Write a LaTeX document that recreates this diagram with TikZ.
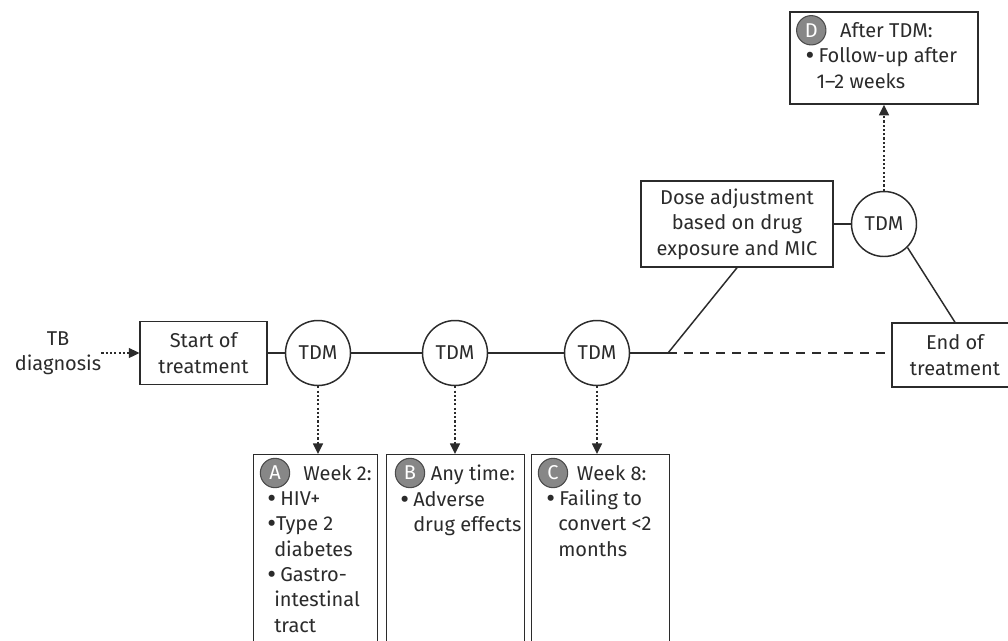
\documentclass[tikz,border=0pt]{standalone}
\usepackage{fontspec}
\setmainfont{Fira Sans}
\usetikzlibrary{arrows.meta,positioning,calc}
\definecolor{ink}{HTML}{2B2B2B}
\definecolor{badgegray}{HTML}{878787}
\newcommand{\dotmark}{\raisebox{-0.09em}{\scalebox{1.35}{\textbullet}}}
\newcommand{\bul}{\makebox[9.75pt][l]{\dotmark}}

\begin{document}
\begin{tikzpicture}[
    x=0.75pt, y=-0.75pt,
    >={Triangle[length=8pt, width=7.5pt]},
    every node/.style={font=\fontsize{15}{19}\selectfont, text=ink},
    box/.style={draw=ink, line width=1.1pt, inner sep=0pt, align=center},
    tdm/.style={circle, draw=ink, line width=1.1pt, minimum size=48.75pt, inner sep=0pt},
    badge/.style={circle, draw=ink!85, fill=badgegray, text=white, line width=0.8pt,
        minimum size=22pt, inner sep=0pt},
    note/.style={anchor=north west, align=left, inner sep=0pt},
    link/.style={draw=ink, line width=1.1pt},
    dotarrow/.style={link, dash pattern=on 1.6pt off 1.6pt, ->},
]

\useasboundingbox (0,0) rectangle (1008,640);
\fill[white] (0,0) rectangle (1008,640);
\clip (0,0) rectangle (1008,640);

% Diagnosis and start
\node[align=center, inner sep=0pt] (diag) at (58,353) {TB\\diagnosis};
\node[box, minimum width=95pt, minimum height=47pt] (start) at (203.5,353) {Start of\\treatment};
\draw[dotarrow] (diag) -- (start);

% TDM time line
\node[tdm] (tdmA) at (318,353) {TDM};
\node[tdm] (tdmB) at (455,353) {TDM};
\node[tdm] (tdmC) at (597,353) {TDM};
\coordinate (split) at (668,353);
\draw[link] (start) -- (tdmA) -- (tdmB) -- (tdmC) -- (split);

% End of treatment
\node[box, minimum width=94.5pt, minimum height=48pt] (finish) at (955,355) {End of\\treatment};
\draw[link, dash pattern=on 7pt off 5pt] (split) -- ([xshift=-5pt]finish.west |- split);

% Dose adjustment branch
\node[box, minimum width=144pt, minimum height=64.5pt] (dose) at (737,224) {Dose adjustment\\based on drug\\exposure and MIC};
\node[tdm] (tdmD) at (884,224) {TDM};
\draw[link] (split) -- (dose.south);
\draw[link] (dose) -- (tdmD);
\draw[link] (tdmD.-45) -- (finish.north);

% Box D
\node[box, minimum width=141pt, minimum height=69pt] (outD) at (884,58) {};
\node[badge] (bD) at ($(outD.north west)+(22,19)$) {D};
\node[note] (txtD) at ($(outD.north west)+(16,11)$)
    {\hspace*{26pt}After TDM:\\
    \bul Follow-up after\\
    \hspace*{8.25pt}1\textendash2 weeks};
\draw[dotarrow] (tdmD) -- (outD);

% Box A
\node[box, anchor=north west, minimum width=93pt, minimum height=185pt] (outA) at (253,454) {};
\node[badge] (bA) at ($(outA.north west)+(22,19)$) {A};
\node[note] (txtA) at ($(outA.north west)+(14,11)$)
    {\hspace*{27pt}Week 2:\\
    \bul HIV+\\
    \dotmark Type 2\\
    \hspace*{5.25pt}diabetes\\
    \bul Gastro-\\
    \hspace*{5.25pt}intestinal\\
    \hspace*{5.25pt}tract};
\draw[dotarrow] (tdmA) -- (tdmA |- outA.north);

% Box B
\node[box, anchor=north west, minimum width=103.5pt, minimum height=185pt] (outB) at (386,454) {};
\node[badge] (bB) at ($(outB.north west)+(24,19)$) {B};
\node[note] (txtB) at ($(outB.north west)+(14,11)$)
    {\hspace*{23pt}Any time:\\
    \bul Adverse\\
    \hspace*{9.75pt}drug effects};
\draw[dotarrow] (tdmB) -- (tdmB |- outB.north);

% Box C
\node[box, anchor=north west, minimum width=103.5pt, minimum height=185pt] (outC) at (531,454) {};
\node[badge] (bC) at ($(outC.north west)+(22,19)$) {C};
\node[note] (txtC) at ($(outC.north west)+(15,11)$)
    {\hspace*{23pt}Week 8:\\
    \bul Failing to\\
    \hspace*{9pt}convert <2\\
    \hspace*{9pt}months};
\draw[dotarrow] (tdmC) -- (tdmC |- outC.north);

\end{tikzpicture}
\end{document}
